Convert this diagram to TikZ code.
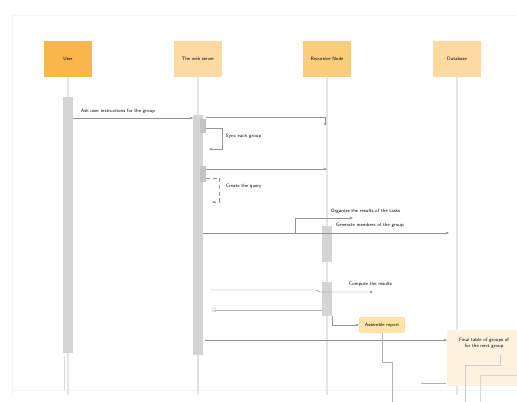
\documentclass[tikz,border=0pt]{standalone}
\usetikzlibrary{arrows.meta}
\definecolor{userorange}{HTML}{F9B64D}
\definecolor{midorange}{HTML}{FBCC7C}
\definecolor{lightorange}{HTML}{FDDAA2}
\definecolor{notefill}{HTML}{FFE5A8}
\definecolor{notepale}{HTML}{FFF3DF}
\definecolor{barfill}{HTML}{D4D4D4}
\definecolor{lifecol}{HTML}{E3E7EC}
\tikzset{
  actor/.style={fill=#1, minimum width=36pt, minimum height=27pt, inner sep=1pt,
    font=\sffamily\fontsize{3.6}{4.4}\selectfont},
  lbl/.style={anchor=west, inner sep=0.5pt, font=\sffamily\fontsize{3.6}{4.4}\selectfont},
  msg/.style={draw=gray!85, line width=0.35pt, -{Stealth[length=2.5pt, width=2pt]}},
  plain/.style={draw=gray!60, line width=0.3pt},
  bar/.style={fill=barfill, draw=none}
}
\begin{document}
\begin{tikzpicture}[x=0.75pt, y=-0.75pt]
	\useasboundingbox (0,0) rectangle (517,402);
	\clip (0,0) rectangle (517,402);
	% faint frame
	\draw [gray!8, line width=0.4pt] (12,395) -- (12,15) -- (517,15);
	\draw [gray!8, line width=0.4pt] (12,390) -- (517,390);

	% actors
	\node [actor=userorange] (user) at (68,59) {User};
	\node [actor=lightorange] (web) at (198,59) {The web server};
	\node [actor=midorange] (node) at (327,59) {Recursive Node};
	\node [actor=lightorange] (db) at (457,59) {Database};

	% lifelines
	\foreach \a in {user,web,node,db}
		\draw [lifecol, line width=1.1pt] (\a.south) -- ++(0,318);

	% activation bars
	\draw [bar] (63,97) rectangle (73,353);
	\draw [bar] (193,115) rectangle (203,355);
	\draw [bar, fill=barfill!80!gray] (200,119) rectangle (206,133);
	\draw [bar, fill=barfill!80!gray] (200,166) rectangle (206,182);
	\draw [bar] (322,226) rectangle (332,262);
	\draw [bar] (322,282) rectangle (332,316);

	% messages
	\coordinate (m1s) at (73,118);
	\coordinate (m1e) at (193,118);
	\draw [msg] (m1s) -- (m1e);
	\node [lbl] (ask) at (80,111) {Ask user instructions for the group};

	\coordinate (m2s) at (206,117);
	\coordinate (m2e) at (325,126);
	\draw [msg] (m2s) -| (m2e);

	\coordinate (s1s) at (206,128);
	\coordinate (s1e) at (209,149);
	\draw [msg] (s1s) -| (222,149) -- (s1e);
	\node [lbl] (sync) at (225,136) {Sync each group};

	\coordinate (m3s) at (206,169);
	\coordinate (m3e) at (327,169);
	\draw [msg] (m3s) -- (m3e);

	\coordinate (s2s) at (206,178);
	\coordinate (s2e) at (212,202);
	\draw [msg, densely dashed] (s2s) -| (219,202) -- (s2e);
	\node [lbl] (query) at (225,186) {Create the query};

	\coordinate (m4s) at (203,233);
	\coordinate (m4e) at (449,233);
	\draw [msg] (m4s) -- (m4e);
	\coordinate (m5s) at (295,233);
	\coordinate (m5e) at (353,218);
	\draw [msg] (m5s) |- (m5e);
	\node [lbl] (organize) at (330,211) {Organize the results of the tasks};
	\node [lbl] (generate) at (335,225) {Generate members of the group};

	\coordinate (m6s) at (210,290);
	\coordinate (m6e) at (373,292);
	\draw [msg] (m6s) -- (316,290) -- (320,292) -- (m6e);
	\node [lbl] (compute) at (348,284) {Compute the results};

	\coordinate (r1s) at (322,310);
	\coordinate (r1e) at (214,310);
	\draw [plain] (r1s) -- (r1e);
	\draw [gray!50, line width=0.3pt] (r1e) circle (2);

	% notes
	\node [fill=notefill, draw=notefill!80!orange, rounded corners=1pt, minimum width=34pt,
		minimum height=11pt, inner sep=1pt, font=\sffamily\fontsize{3.6}{4.4}\selectfont]
		(report) at (382,325) {Assemble report};
	\coordinate (m7s) at (332,316);
	\draw [msg] (m7s) |- (report.west);

	\node [fill=notepale, anchor=north west, minimum width=60pt, minimum height=42pt,
		inner sep=0pt] (final) at (447,330) {};
	\node [align=center, inner sep=0pt, font=\sffamily\fontsize{3.6}{4.4}\selectfont]
		(finaltxt) at (484,343) {Final table of groups of\\for the next group};
	\coordinate (m8s) at (205,340);
	\draw [msg] (m8s) -- (final.west |- m8s);

	% lines below the notes
	\draw [plain] (report.south) -- (382,362) -- (392,362) -- (392,402);
	\draw [plain] (421,383) -- (446,383);
	\draw [gray!40, line width=0.3pt] (465,402) -- (465,365) -- (500,365) -- (500,355);
	\draw [gray!30, line width=0.3pt] (480,402) -- (480,375) -- (517,375);
	\draw [gray!30, line width=0.3pt] (64,356) -- (64,390);
	\draw [gray!30, line width=0.3pt] (198,356) -- (198,390);
\end{tikzpicture}
\end{document}
